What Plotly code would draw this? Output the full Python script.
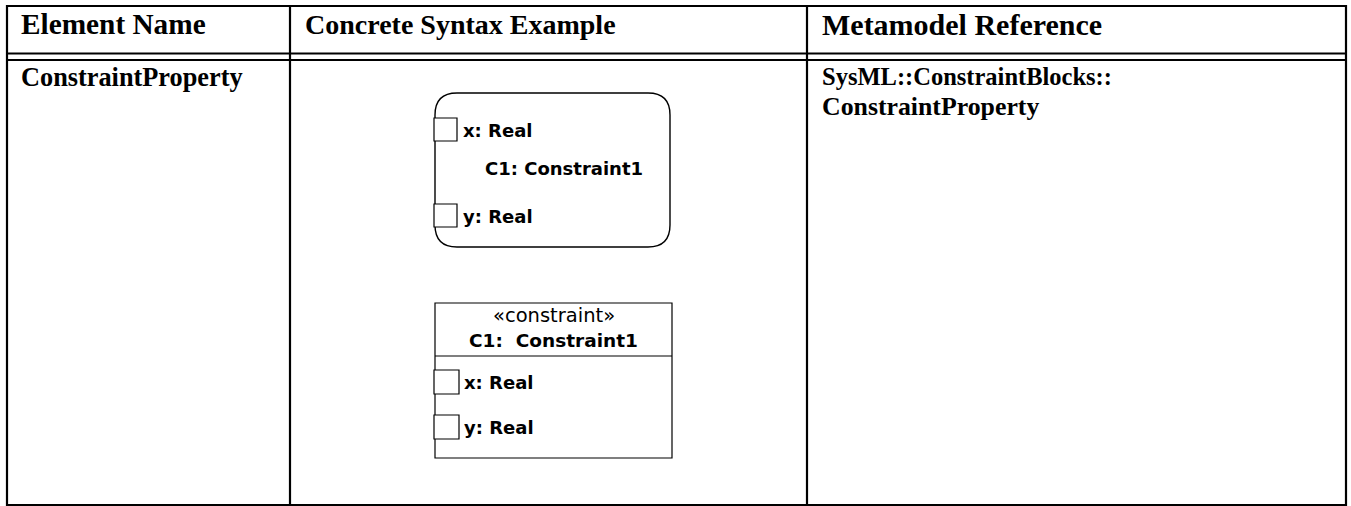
import plotly.graph_objects as go

W, H = 1351, 506

# ---- data ----
headers = ["Element Name", "Concrete Syntax Example", "Metamodel Reference"]
element_name = "ConstraintProperty"
metamodel_ref = ["SysML::ConstraintBlocks::", "ConstraintProperty"]
port_labels = ["x: Real", "y: Real"]
constraint_name_round = "C1: Constraint1"
stereotype = "«constraint»"
constraint_name_rect = "C1:  Constraint1"

# ---- geometry ----
tbl_l, tbl_r, tbl_t, tbl_b = 7, 1346, 6, 505
col_x = [290, 807]
hdr_lines = [53.5, 60]

fig = go.Figure()
shapes = []
ann = []

BLACK = "#000000"
# table outer border
shapes.append(dict(type="rect", x0=tbl_l, x1=tbl_r, y0=tbl_t, y1=tbl_b,
                   line=dict(color=BLACK, width=2.2)))
for cx in col_x:
    shapes.append(dict(type="line", x0=cx, x1=cx, y0=tbl_t, y1=tbl_b,
                       line=dict(color=BLACK, width=2.2)))
for hy in hdr_lines:
    shapes.append(dict(type="line", x0=tbl_l, x1=tbl_r, y0=hy, y1=hy,
                       line=dict(color=BLACK, width=2.2)))

serif = "Liberation Serif, Times New Roman, serif"
sans = "DejaVu Sans, Arial, sans-serif"

hdr_x = [19, 303, 820]
hdr_fs = [29.3, 28, 30]
for x, t, fs in zip(hdr_x, headers, hdr_fs):
    ann.append(dict(x=x, y=24, text=f"<b>{t}</b>", xanchor="left", yanchor="middle",
                    font=dict(family=serif, size=fs, color=BLACK)))
ann.append(dict(x=19, y=77, text=f"<b>{element_name}</b>", xanchor="left", yanchor="middle",
                font=dict(family=serif, size=26.3, color=BLACK)))
ref_fs = [24.5, 25.8]
ref_y = [76, 106]
for t, fs, y in zip(metamodel_ref, ref_fs, ref_y):
    ann.append(dict(x=820, y=y, text=f"<b>{t}</b>", xanchor="left", yanchor="middle",
                    font=dict(family=serif, size=fs, color=BLACK)))

# ---- rounded constraint property box ----
L, R, T, B, r = 435, 670, 93, 247, 22
path = (f"M {L+r},{T} L {R-r},{T} Q {R},{T} {R},{T+r} L {R},{B-r} Q {R},{B} {R-r},{B} "
        f"L {L+r},{B} Q {L},{B} {L},{B-r} L {L},{T+r} Q {L},{T} {L+r},{T} Z")
shapes.append(dict(type="path", path=path, line=dict(color=BLACK, width=1.4)))
DFS = 18
for py, lbl in zip([118, 204], port_labels):
    shapes.append(dict(type="rect", x0=L - 1, x1=L + 22, y0=py, y1=py + 23,
                       line=dict(color=BLACK, width=1.2), fillcolor="white"))
    ann.append(dict(x=L + 26, y=py + 12, text=f"<b>{lbl}</b>", xanchor="left", yanchor="middle",
                    font=dict(family=sans, size=DFS, color=BLACK)))
ann.append(dict(x=483, y=168, text=f"<b>{constraint_name_round}</b>", xanchor="left",
                yanchor="middle", font=dict(family=sans, size=DFS, color=BLACK)))

# ---- rectangular constraint box ----
L2, R2, T2, B2, D2 = 435, 672, 303, 458, 356
shapes.append(dict(type="rect", x0=L2, x1=R2, y0=T2, y1=B2, line=dict(color=BLACK, width=1.2)))
shapes.append(dict(type="line", x0=L2, x1=R2, y0=D2, y1=D2, line=dict(color=BLACK, width=1.2)))
ann.append(dict(x=(L2 + R2) / 2, y=315, text=stereotype, xanchor="center", yanchor="middle",
                font=dict(family=sans, size=19.5, color=BLACK)))
ann.append(dict(x=(L2 + R2) / 2, y=340, text=f"<b>{constraint_name_rect}</b>", xanchor="center",
                yanchor="middle", font=dict(family=sans, size=18.5, color=BLACK)))
for py, lbl in zip([370, 415], port_labels):
    shapes.append(dict(type="rect", x0=L2 - 1, x1=L2 + 24, y0=py, y1=py + 24,
                       line=dict(color=BLACK, width=1.2), fillcolor="white"))
    ann.append(dict(x=L2 + 27, y=py + 12, text=f"<b>{lbl}</b>", xanchor="left", yanchor="middle",
                    font=dict(family=sans, size=DFS, color=BLACK)))

for a in ann:
    a.update(showarrow=False, xref="x", yref="y")

fig.update_layout(
    width=W, height=H, margin=dict(l=0, r=0, t=0, b=0),
    paper_bgcolor="white", plot_bgcolor="white",
    xaxis=dict(range=[0, W], visible=False, fixedrange=True),
    yaxis=dict(range=[H, 0], visible=False, fixedrange=True),
    shapes=shapes, annotations=ann, showlegend=False,
)
fig.write_html("out.html", config=dict(displayModeBar=False),
               post_script="document.body.style.margin='0px';document.body.style.overflow='hidden';")
